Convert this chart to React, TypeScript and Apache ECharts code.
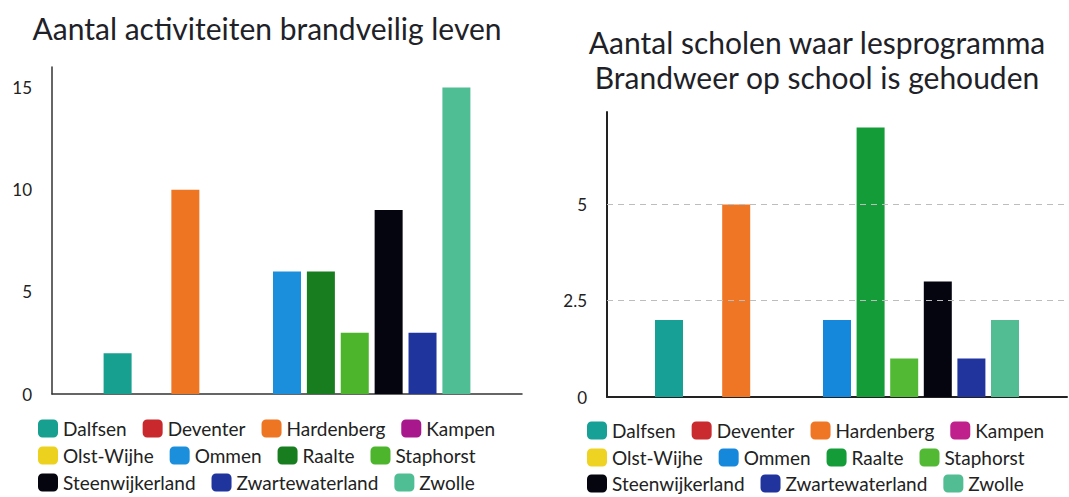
import React, { useEffect, useRef } from "react";
import * as echarts from "echarts";

const municipalities = [
  "Dalfsen", "Deventer", "Hardenberg", "Kampen", "Olst-Wijhe", "Ommen",
  "Raalte", "Staphorst", "Steenwijkerland", "Zwartewaterland", "Zwolle",
];
const activiteiten = [2, 0, 10, 0, 0, 6, 6, 3, 9, 3, 15];
const scholen = [2, 0, 5, 0, 0, 2, 7, 1, 3, 1, 2];
const colorsLeft = [
  "#17a08f", "#c9292d", "#ee7521", "#a8178c", "#ecd21f", "#1b8fdb",
  "#187d1f", "#4db52b", "#05050f", "#1f349c", "#50be95",
];
const colorsRight = [
  "#17a096", "#c92b2f", "#ef7624", "#c0208c", "#efd322", "#1688dc",
  "#139c38", "#52b935", "#05050f", "#21349e", "#52bd93",
];
const ticksLeft = [0, 5, 10, 15];
const ticksRight = [0, 2.5, 5];
const legendRows = [
  ["Dalfsen", "Deventer", "Hardenberg", "Kampen"],
  ["Olst-Wijhe", "Ommen", "Raalte", "Staphorst"],
  ["Steenwijkerland", "Zwartewaterland", "Zwolle"],
];
const titleLeft = "Aantal activiteiten brandveilig leven";
const titleRight = ["Aantal scholen waar lesprogramma", "Brandweer op school is gehouden"];

const FONT = "Lato";
const TEXT = "#222";

export default function App() {
  const ref = useRef<HTMLDivElement>(null);
  useEffect(() => {
    if (!ref.current) return;
    const chart = echarts.init(ref.current, null, { renderer: "svg" });

    const seriesLeft = municipalities.map((name, i) => ({
      type: "bar",
      name,
      xAxisIndex: 0,
      yAxisIndex: 0,
      data: [activiteiten[i]],
      barWidth: 28,
      barGap: "21%",
      itemStyle: { color: colorsLeft[i] },
    }));
    const seriesRight = municipalities.map((name, i) => ({
      type: "bar",
      name,
      xAxisIndex: 1,
      yAxisIndex: 1,
      data: [scholen[i]],
      barWidth: 28,
      barGap: "20%",
      itemStyle: { color: colorsRight[i] },
      ...(i === 0
        ? {
            markLine: {
              silent: true,
              symbol: "none",
              label: { show: false },
              lineStyle: { color: "#bdbdbd", type: [6, 5], width: 1.2 },
              data: ticksRight.filter((t) => t > 0).map((t) => ({ yAxis: t })),
            },
          }
        : {}),
    }));

    const legends: any[] = [];
    const rowTopsL = [419, 446, 473];
    const rowTopsR = [421, 448, 474];
    legendRows.forEach((row, r) => {
      [0, 1].forEach((side) => {
        const cols = side === 0 ? colorsLeft : colorsRight;
        legends.push({
          data: row.map((name) => ({
            name,
            itemStyle: { color: cols[municipalities.indexOf(name)] },
          })),
          left: side === 0 ? 38 : 587,
          top: side === 0 ? rowTopsL[r] : rowTopsR[r],
          padding: 0,
          itemWidth: 20,
          itemHeight: 18,
          itemGap: 16,
          icon: "roundRect",
          selectedMode: false,
          textStyle: { fontFamily: FONT, fontSize: 19, color: TEXT },
        });
      });
    });

    chart.setOption({
      animation: false,
      color: colorsLeft,
      textStyle: { fontFamily: FONT },
      grid: [
        { left: 52, right: 547, top: 67, bottom: 103 },
        { left: 607, right: 2, top: 112, bottom: 100 },
      ],
      xAxis: [
        {
          type: "category",
          gridIndex: 0,
          data: [""],
          axisLine: { lineStyle: { color: "#333", width: 1.5 } },
          axisTick: { show: false },
          axisLabel: { show: false },
        },
        {
          type: "category",
          gridIndex: 1,
          data: [""],
          axisLine: { lineStyle: { color: "#222", width: 2 } },
          axisTick: { show: false },
          axisLabel: { show: false },
        },
      ],
      yAxis: [
        {
          type: "value",
          gridIndex: 0,
          min: 0,
          max: 16,
          interval: 5,
          axisLine: { show: true, lineStyle: { color: "#333", width: 1.5 } },
          axisTick: { show: false },
          splitLine: { show: false },
          axisLabel: {
            showMaxLabel: false,
            margin: 20,
            fontFamily: FONT,
            fontSize: 17,
            color: TEXT,
            formatter: (v: number) => (ticksLeft.includes(v) ? String(v) : ""),
          },
        },
        {
          type: "value",
          gridIndex: 1,
          min: 0,
          max: 7.4,
          interval: 2.5,
          axisLine: { show: true, lineStyle: { color: "#222", width: 2 } },
          axisTick: { show: false },
          splitLine: { show: false },
          axisLabel: {
            showMaxLabel: false,
            margin: 20,
            fontFamily: FONT,
            fontSize: 17,
            color: TEXT,
            formatter: (v: number) => (ticksRight.includes(v) ? String(v) : ""),
          },
        },
      ],
      legend: legends,
      series: [...seriesLeft, ...seriesRight],
      graphic: [
        {
          type: "text",
          x: 267,
          y: 28,
          style: {
            text: titleLeft,
            fontFamily: FONT,
            fontSize: 30,
            fill: "#1e2228",
            textAlign: "center",
            textVerticalAlign: "middle",
          },
        },
        ...titleRight.map((t, i) => ({
          type: "text",
          x: 817,
          y: 42 + i * 35,
          style: {
            text: t,
            fontFamily: FONT,
            fontSize: 30,
            fill: "#1e2228",
            textAlign: "center",
            textVerticalAlign: "middle",
          },
        })),
      ],
    });
    return () => chart.dispose();
  }, []);
  return (
    <div
      ref={ref}
      style={{ position: "absolute", left: 0, top: 0, width: 1069, height: 497 }}
    />
  );
}
